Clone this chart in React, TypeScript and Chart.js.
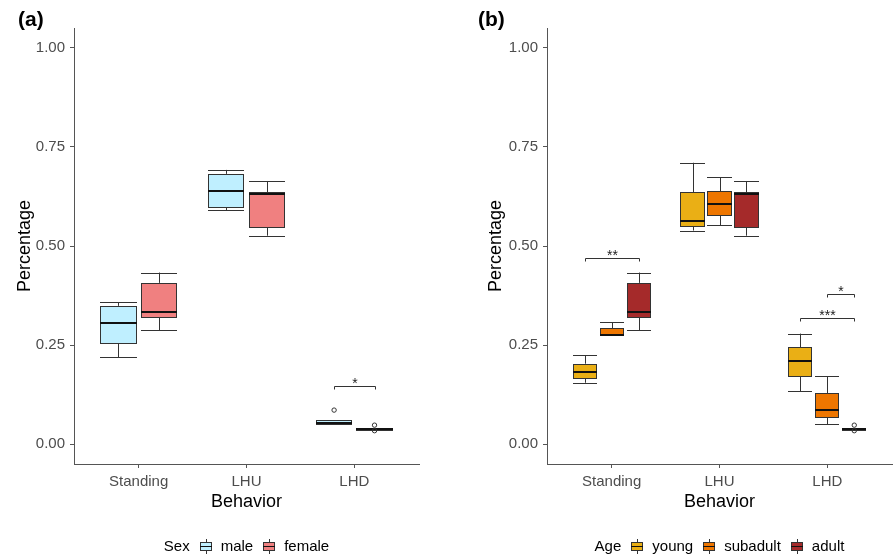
import React, { useEffect, useRef } from "react";
import { Chart, registerables } from "chart.js";

Chart.register(...registerables);

const FONT = '"Liberation Sans", Arial, Helvetica, sans-serif';
Chart.defaults.font.family = FONT;

// ---------- shared axis content ----------
const CATEGORIES = ["Standing", "LHU", "LHD"];
const Y_TICKS = [0, 0.25, 0.5, 0.75, 1];
const X_TITLE = "Behavior";
const Y_TITLE = "Percentage";

// ---------- panel (a): Sex ----------
// each row: [lower whisker, Q1, median, Q3, upper whisker] per category
const SEX_GROUPS = ["male", "female"];
const SEX_COLORS = ["#BFEFFF", "#F08080"];
const MALE_STATS = [
  [0.219, 0.255, 0.306, 0.349, 0.358],
  [0.59, 0.598, 0.639, 0.682, 0.692],
  [0.05, 0.05, 0.053, 0.061, 0.061],
];
const FEMALE_STATS = [
  [0.288, 0.321, 0.334, 0.407, 0.433],
  [0.526, 0.549, 0.631, 0.636, 0.664],
  [0.0395, 0.0395, 0.0395, 0.0395, 0.0395],
];
const MALE_OUTLIERS = [[], [], [0.086]];
const FEMALE_OUTLIERS = [[], [], [0.048, 0.034]];
const SEX_BRACKETS = [{ category: 2, from: 0, to: 1, y: 0.146, label: "*" }];

// ---------- panel (b): Age ----------
const AGE_GROUPS = ["young", "subadult", "adult"];
const AGE_COLORS = ["#EAAF15", "#EE7600", "#A52A2A"];
const YOUNG_STATS = [
  [0.155, 0.167, 0.181, 0.203, 0.225],
  [0.539, 0.551, 0.562, 0.636, 0.71],
  [0.133, 0.172, 0.211, 0.244, 0.279],
];
const SUBADULT_STATS = [
  [0.276, 0.275, 0.276, 0.292, 0.308],
  [0.553, 0.579, 0.606, 0.638, 0.673],
  [0.05, 0.068, 0.085, 0.128, 0.171],
];
const ADULT_STATS = [
  [0.288, 0.321, 0.334, 0.407, 0.433],
  [0.526, 0.549, 0.631, 0.636, 0.664],
  [0.0395, 0.0395, 0.0395, 0.0395, 0.0395],
];
const YOUNG_OUTLIERS = [[], [], []];
const SUBADULT_OUTLIERS = [[], [], []];
const ADULT_OUTLIERS = [[], [], [0.048, 0.034]];
const AGE_BRACKETS = [
  { category: 0, from: 0, to: 2, y: 0.47, label: "**" },
  { category: 2, from: 0, to: 2, y: 0.318, label: "***" },
  { category: 2, from: 1, to: 2, y: 0.378, label: "*" },
];

type Bracket = { category: number; from: number; to: number; y: number; label: string };
type PanelDef = {
  tag: string;
  legendTitle: string;
  groups: string[];
  colors: string[];
  stats: number[][][];
  outliers: number[][][];
  brackets: Bracket[];
  yWidth: number;
  padRight: number;
  yTitlePad: number;
  tagX: number;
};

const PANELS: PanelDef[] = [
  {
    tag: "(a)",
    legendTitle: "Sex",
    groups: SEX_GROUPS,
    colors: SEX_COLORS,
    stats: [MALE_STATS, FEMALE_STATS],
    outliers: [MALE_OUTLIERS, FEMALE_OUTLIERS],
    brackets: SEX_BRACKETS,
    yWidth: 74,
    padRight: 29,
    yTitlePad: 14,
    tagX: 18,
  },
  {
    tag: "(b)",
    legendTitle: "Age",
    groups: AGE_GROUPS,
    colors: AGE_COLORS,
    stats: [YOUNG_STATS, SUBADULT_STATS, ADULT_STATS],
    outliers: [YOUNG_OUTLIERS, SUBADULT_OUTLIERS, ADULT_OUTLIERS],
    brackets: AGE_BRACKETS,
    yWidth: 99,
    padRight: 4,
    yTitlePad: 37,
    tagX: 30,
  },
];

const DODGE = 0.75;
const LINE = "#333333";
const AXIS = "#555555";

function dodge(g: number, n: number) {
  return (g - (n - 1) / 2) * (DODGE / n);
}
const crisp = (v: number) => Math.round(v) + 0.5;

function hline(ctx: CanvasRenderingContext2D, x1: number, x2: number, y: number) {
  ctx.beginPath();
  ctx.moveTo(x1, y);
  ctx.lineTo(x2, y);
  ctx.stroke();
}
function vline(ctx: CanvasRenderingContext2D, x: number, y1: number, y2: number) {
  ctx.beginPath();
  ctx.moveTo(x, y1);
  ctx.lineTo(x, y2);
  ctx.stroke();
}

function makePlugin(p: PanelDef) {
  const n = p.groups.length;
  const half = (DODGE / n) * 0.9 / 2;
  return {
    id: "boxplots",
    beforeDatasetsDraw(chart: any) {
      const { ctx, scales } = chart;
      const x = scales.x;
      const y = scales.y;
      ctx.save();
      p.stats.forEach((groupStats, g) => {
        groupStats.forEach((st, i) => {
          const c = i + 1 + dodge(g, n);
          const xl = Math.round(x.getPixelForValue(c - half));
          const xr = Math.round(x.getPixelForValue(c + half));
          const xc = crisp(x.getPixelForValue(c));
          const [lo, q1, med, q3, hi] = st.map((v) => y.getPixelForValue(v));
          ctx.strokeStyle = LINE;
          ctx.lineWidth = 1;
          // whiskers
          vline(ctx, xc, q3, hi);
          vline(ctx, xc, q1, lo);
          hline(ctx, xl, xr, crisp(hi));
          hline(ctx, xl, xr, crisp(lo));
          // box
          const top = Math.round(q3);
          const bot = Math.max(Math.round(q1), top + 1);
          ctx.fillStyle = p.colors[g];
          ctx.fillRect(xl, top, xr - xl, bot - top);
          ctx.strokeRect(xl + 0.5, top + 0.5, xr - xl - 1, bot - top);
          // median
          ctx.strokeStyle = "#111111";
          ctx.lineWidth = 2;
          hline(ctx, xl, xr, Math.round(med));
        });
      });
      ctx.restore();
    },
    afterDraw(chart: any) {
      const { ctx, scales, chartArea } = chart;
      const x = scales.x;
      const y = scales.y;
      ctx.save();
      // significance brackets
      p.brackets.forEach((b) => {
        const x1 = crisp(x.getPixelForValue(b.category + 1 + dodge(b.from, n)));
        const x2 = crisp(x.getPixelForValue(b.category + 1 + dodge(b.to, n)));
        const yp = crisp(y.getPixelForValue(b.y));
        ctx.strokeStyle = LINE;
        ctx.lineWidth = 1;
        ctx.beginPath();
        ctx.moveTo(x1, yp + 3);
        ctx.lineTo(x1, yp);
        ctx.lineTo(x2, yp);
        ctx.lineTo(x2, yp + 3);
        ctx.stroke();
        ctx.fillStyle = "#222222";
        ctx.font = `14px ${FONT}`;
        ctx.textAlign = "center";
        ctx.textBaseline = "alphabetic";
        ctx.fillText(b.label, (x1 + x2) / 2, yp + 1.5);
      });

      // panel tag
      ctx.fillStyle = "#000000";
      ctx.font = `bold 21px ${FONT}`;
      ctx.textAlign = "left";
      ctx.textBaseline = "middle";
      ctx.fillText(p.tag, p.tagX, 20);

      // legend
      ctx.font = `15px ${FONT}`;
      const keyW = 12;
      const titleW = ctx.measureText(p.legendTitle).width;
      const textW = p.groups.map((g) => ctx.measureText(g).width);
      let total = titleW;
      textW.forEach((w) => {
        total += 10 + keyW + 9 + w;
      });
      let cx = (chartArea.left + chartArea.right) / 2 - total / 2;
      const ly = 547;
      ctx.fillStyle = "#000000";
      ctx.textBaseline = "middle";
      ctx.fillText(p.legendTitle, cx, ly);
      cx += titleW;
      p.groups.forEach((g, i) => {
        cx += 10;
        const kx = Math.round(cx);
        ctx.strokeStyle = LINE;
        ctx.lineWidth = 1;
        vline(ctx, kx + 6.5, ly - 8, ly + 7);
        ctx.fillStyle = p.colors[i];
        ctx.fillRect(kx, ly - 5, keyW, 9);
        ctx.strokeRect(kx + 0.5, ly - 4.5, keyW - 1, 8);
        ctx.strokeStyle = "#111111";
        hline(ctx, kx, kx + keyW, ly - 0.5);
        cx += keyW + 9;
        ctx.fillStyle = "#000000";
        ctx.fillText(g, cx, ly);
        cx += textW[i];
      });
      ctx.restore();
    },
  };
}

function makeConfig(p: PanelDef): any {
  const n = p.groups.length;
  const datasets = p.groups.map((g, gi) => ({
    label: g,
    data: p.outliers[gi].flatMap((vals, i) =>
      vals.map((v) => ({ x: i + 1 + dodge(gi, n), y: v }))
    ),
    pointRadius: 2.2,
    pointHoverRadius: 2.2,
    pointStyle: "circle",
    borderWidth: 1,
    borderColor: "#333333",
    backgroundColor: "rgba(255,255,255,0)",
  }));
  return {
    type: "scatter",
    data: { datasets },
    options: {
      animation: false,
      responsive: false,
      maintainAspectRatio: false,
      events: [],
      layout: { padding: { left: 0, right: p.padRight, top: 28, bottom: 0 } },
      plugins: {
        legend: { display: false },
        tooltip: { enabled: false },
        title: { display: false },
      },
      scales: {
        x: {
          type: "linear",
          min: 0.4,
          max: 3.6,
          afterBuildTicks: (s: any) => {
            s.ticks = CATEGORIES.map((_, i) => ({ value: i + 1 }));
          },
          afterFit: (s: any) => {
            s.height = 94;
          },
          ticks: {
            callback: (v: any) => CATEGORIES[Math.round(Number(v)) - 1] ?? "",
            font: { size: 15 },
            color: "#4d4d4d",
            padding: 5,
            autoSkip: false,
            maxRotation: 0,
          },
          grid: {
            display: true,
            drawOnChartArea: false,
            drawTicks: true,
            tickLength: 4,
            color: AXIS,
            tickColor: AXIS,
          },
          border: { display: true, color: AXIS, width: 1 },
          title: {
            display: true,
            text: X_TITLE,
            font: { size: 18 },
            color: "#000000",
            padding: { top: 0, bottom: 45 },
          },
        },
        y: {
          type: "linear",
          min: -0.05,
          max: 1.05,
          afterBuildTicks: (s: any) => {
            s.ticks = Y_TICKS.map((v) => ({ value: v }));
          },
          afterFit: (s: any) => {
            s.width = p.yWidth;
          },
          ticks: {
            callback: (v: any) => Number(v).toFixed(2),
            font: { size: 15 },
            color: "#4d4d4d",
            padding: 5,
          },
          grid: {
            display: true,
            drawOnChartArea: false,
            drawTicks: true,
            tickLength: 4,
            color: AXIS,
            tickColor: AXIS,
          },
          border: { display: true, color: AXIS, width: 1 },
          title: {
            display: true,
            text: Y_TITLE,
            font: { size: 18 },
            color: "#000000",
            padding: { top: p.yTitlePad, bottom: 0 },
          },
        },
      },
    },
    plugins: [makePlugin(p)],
  };
}

function Panel({ panel, left }: { panel: PanelDef; left: number }) {
  const ref = useRef<HTMLCanvasElement>(null);
  useEffect(() => {
    if (!ref.current) return;
    const chart = new Chart(ref.current, makeConfig(panel));
    return () => chart.destroy();
  }, [panel]);
  return (
    <canvas
      ref={ref}
      width={448}
      height={558}
      style={{ position: "absolute", left, top: 0, width: 448, height: 558 }}
    />
  );
}

export default function App() {
  return (
    <div
      style={{
        position: "fixed",
        left: 0,
        top: 0,
        width: 896,
        height: 558,
        background: "#ffffff",
        overflow: "hidden",
      }}
    >
      <Panel panel={PANELS[0]} left={0} />
      <Panel panel={PANELS[1]} left={448} />
    </div>
  );
}
